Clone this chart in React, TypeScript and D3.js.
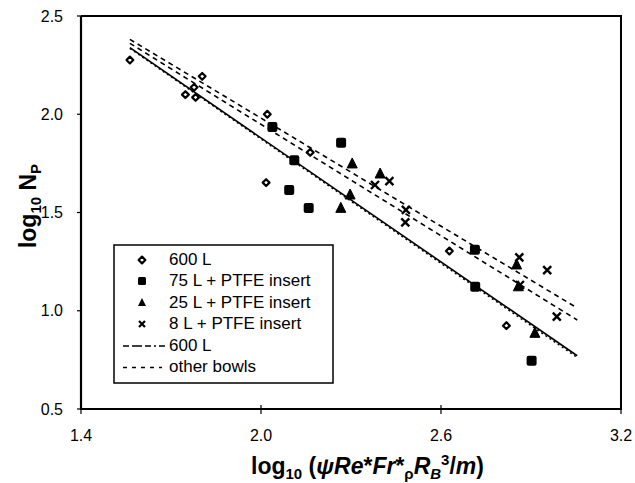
import React from "react";
import * as d3 from "d3";

const xTicks = [1.4, 2.0, 2.6, 3.2];
const yTicks = [0.5, 1.0, 1.5, 2.0, 2.5];

const s600x = [1.563, 1.748, 1.782, 1.777, 1.804, 2.021, 2.017, 2.164, 2.628, 2.818];
const s600y = [2.276, 2.1, 2.086, 2.137, 2.193, 2.0, 1.652, 1.806, 1.304, 0.924];

const s75x = [2.038, 2.094, 2.159, 2.267, 2.111, 2.713, 2.714, 2.902];
const s75y = [1.935, 1.614, 1.523, 1.855, 1.766, 1.311, 1.122, 0.746];

const s25x = [2.304, 2.297, 2.266, 2.397, 2.852, 2.858, 2.913];
const s25y = [1.747, 1.589, 1.521, 1.696, 1.233, 1.122, 0.885];

const s8x = [2.38, 2.428, 2.483, 2.481, 2.861, 2.863, 2.954, 2.986];
const s8y = [1.64, 1.66, 1.513, 1.45, 1.272, 1.131, 1.207, 0.97];

const fit600 = { x: [1.563, 3.054], y: [2.339, 0.771] };
const fit600b = { x: [1.563, 3.054], y: [2.335, 0.762] };
const fitOtherA = { x: [1.563, 3.052], y: [2.381, 1.016] };
const fitOtherB = { x: [1.563, 3.054], y: [2.361, 0.953] };

const legendLabels = ["600 L", "75 L + PTFE insert", "25 L + PTFE insert", "8 L + PTFE insert", "600 L", "other bowls"];

const FONT = "'Liberation Sans', Arial, Helvetica, sans-serif";

function Diamond({ x, y }: { x: number; y: number }) {
  const r = 3.4;
  return <path d={`M${x},${y - r}L${x + r},${y}L${x},${y + r}L${x - r},${y}Z`} fill="white" stroke="black" strokeWidth={2.2} strokeLinejoin="round" />;
}
function Square({ x, y }: { x: number; y: number }) {
  const s = 10;
  return <rect x={x - s / 2} y={y - s / 2} width={s} height={s} rx={2} fill="black" />;
}
function Tri({ x, y }: { x: number; y: number }) {
  const h = 10, w = 10;
  return <path d={`M${x},${y - h * 0.6}L${x + w / 2},${y + h * 0.4}L${x - w / 2},${y + h * 0.4}Z`} fill="black" stroke="black" strokeWidth={1} strokeLinejoin="round" />;
}
function Cross({ x, y }: { x: number; y: number }) {
  const r = 4;
  return <path d={`M${x - r},${y - r}L${x + r},${y + r}M${x - r},${y + r}L${x + r},${y - r}`} stroke="black" strokeWidth={2.4} />;
}

export default function App() {
  const x = d3.scaleLinear().domain([1.4, 3.2]).range([81, 621]);
  const y = d3.scaleLinear().domain([0.5, 2.5]).range([409, 16]);
  const line = d3.line<[number, number]>().x((d) => x(d[0])).y((d) => y(d[1]));
  const mk = (f: { x: number[]; y: number[] }) => line(f.x.map((v, i) => [v, f.y[i]] as [number, number])) || "";

  const legY = [259, 280.5, 302, 323.5, 345, 366.5];
  return (
    <svg width={635} height={483} style={{ position: "absolute", left: 0, top: 0 }} fontFamily={FONT}>
      <rect width={635} height={483} fill="white" />
      {/* frame */}
      <path d={`M${x(1.4)},${y(2.5)}L${x(3.2)},${y(2.5)}L${x(3.2)},${y(0.5)}`} fill="none" stroke="black" strokeWidth={2} />
      <line x1={x(1.4)} x2={x(1.4)} y1={y(2.5)} y2={y(0.5) + 1} stroke="black" strokeWidth={2.2} />
      <line x1={x(1.4) - 1} x2={x(3.2) + 1} y1={y(0.5)} y2={y(0.5)} stroke="black" strokeWidth={2.2} />
      {/* ticks */}
      {yTicks.map((t) => (
        <g key={"y" + t}>
          <line x1={x(1.4) - 4} x2={x(1.4)} y1={y(t)} y2={y(t)} stroke="black" strokeWidth={1.2} />
          <text x={63} y={y(t)} dy="0.35em" textAnchor="end" fontSize={16}>{t.toFixed(1)}</text>
        </g>
      ))}
      {xTicks.map((t) => (
        <g key={"x" + t}>
          <line x1={x(t)} x2={x(t)} y1={y(0.5) - 4} y2={y(0.5) + 5} stroke="black" strokeWidth={1.2} />
          <text x={x(t)} y={441} textAnchor="middle" fontSize={16}>{t.toFixed(1)}</text>
        </g>
      ))}
      {/* axis titles */}
      <text x={251} y={474} fontSize={23} fontWeight="bold">
        log<tspan fontSize={15} dy={5}>10</tspan>
        <tspan dy={-5}> (</tspan>
        <tspan fontStyle="italic">ψRe</tspan>*<tspan fontStyle="italic">Fr</tspan>*
        <tspan fontSize={15} dy={5}>ρ</tspan>
        <tspan fontStyle="italic" dy={-5}>R</tspan>
        <tspan fontSize={15} dy={5} fontStyle="italic">B</tspan>
        <tspan fontSize={15} dy={-14}>3</tspan>
        <tspan dy={9}>/</tspan>
        <tspan fontStyle="italic">m</tspan>)
      </text>
      <text transform={`translate(36,${206}) rotate(-90)`} textAnchor="middle" fontSize={23} fontWeight="bold">
        log<tspan fontSize={15} dy={5}>10</tspan>
        <tspan dy={-5}> N</tspan>
        <tspan fontSize={15} dy={5}>P</tspan>
      </text>
      {/* fit lines */}
      <path d={mk(fit600)} fill="none" stroke="black" strokeWidth={1.6} />
      <path d={mk(fit600b)} fill="none" stroke="black" strokeWidth={1.4} strokeDasharray="2,3" />
      <path d={mk(fitOtherA)} fill="none" stroke="black" strokeWidth={1.6} strokeDasharray="5,4" />
      <path d={mk(fitOtherB)} fill="none" stroke="black" strokeWidth={1.6} strokeDasharray="5,4" />
      {/* points */}
      {s600x.map((v, i) => <Diamond key={"a" + i} x={x(v)} y={y(s600y[i])} />)}
      {s75x.map((v, i) => <Square key={"b" + i} x={x(v)} y={y(s75y[i])} />)}
      {s25x.map((v, i) => <Tri key={"c" + i} x={x(v)} y={y(s25y[i])} />)}
      {s8x.map((v, i) => <Cross key={"d" + i} x={x(v)} y={y(s8y[i])} />)}
      {/* legend */}
      <rect x={114} y={245} width={219} height={138} fill="white" stroke="black" strokeWidth={1.5} />
      <Diamond x={142} y={legY[0] + 1} />
      <rect x={138} y={legY[1] - 3.5} width={8} height={8} rx={1.5} fill="black" />
      <path d={`M142,${legY[2] - 4}L146,${legY[2] + 4}L138,${legY[2] + 4}Z`} fill="black" />
      <path d={`M139,${legY[3] - 2.5}L145,${legY[3] + 3.5}M139,${legY[3] + 3.5}L145,${legY[3] - 2.5}`} stroke="black" strokeWidth={2.2} />
      <line x1={123} x2={168} y1={legY[4] + 1} y2={legY[4] + 1} stroke="black" strokeWidth={1.4} strokeDasharray="6,3,10,3,6,3,2,3" />
      <line x1={123} x2={162} y1={legY[5] + 1} y2={legY[5] + 1} stroke="black" strokeWidth={1.4} strokeDasharray="4,5" />
      {legendLabels.map((l, i) => (
        <text key={"l" + i} x={169} y={legY[i]} dy="0.35em" fontSize={17}>{l}</text>
      ))}
    </svg>
  );
}
